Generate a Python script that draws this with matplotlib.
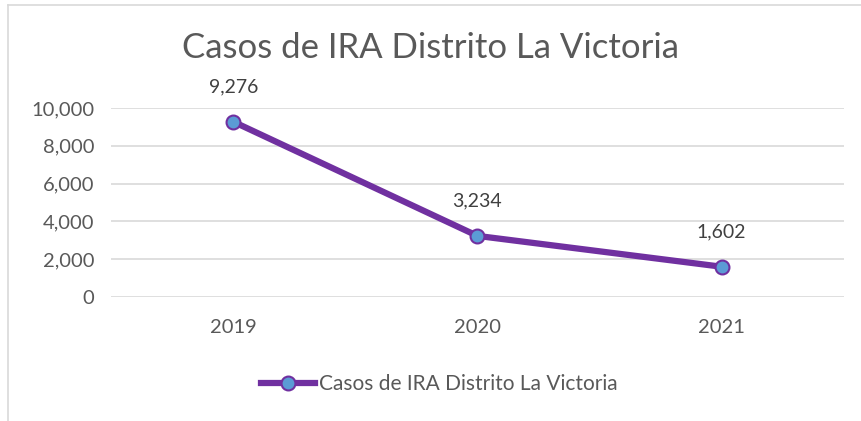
import matplotlib.pyplot as plt
from matplotlib.ticker import FuncFormatter
from matplotlib.lines import Line2D

years = ['2019', '2020', '2021']
casos = [9276, 3234, 1602]
serie = 'Casos de IRA Distrito La Victoria'

plt.rcParams['font.family'] = ['Lato', 'DejaVu Sans']
gris = '#595959'
morado = '#7030A0'
azul = '#5B9BD5'

fig = plt.figure(figsize=(8.61, 4.21), dpi=100)
ax = fig.add_axes([0.129, 0.2945, 0.851, 0.449])

x = range(len(years))
ax.plot(x, casos, color=morado, lw=4.5, marker='o', ms=10,
        mfc=azul, mec=morado, mew=1.5, solid_capstyle='round', zorder=3)
for xi, v in zip(x, casos):
    ax.annotate(f'{v:,}', (xi, v), xytext=(0, 19), textcoords='offset points',
                ha='center', va='bottom', fontsize=14, color='#404040')

ax.set_xlim(-0.5, 2.5)
ax.set_ylim(0, 10000)
ax.set_yticks(range(0, 10001, 2000))
ax.yaxis.set_major_formatter(FuncFormatter(lambda v, p: f'{int(v):,}'))
ax.set_xticks(list(x))
ax.set_xticklabels(years)
ax.grid(axis='y', color='#D9D9D9', lw=1.2)
ax.set_axisbelow(True)
for s in ax.spines.values():
    s.set_visible(False)
ax.tick_params(length=0, labelsize=14.5, colors=gris)
ax.tick_params(axis='y', pad=12)
ax.tick_params(axis='x', pad=16)

fig.text(0.5, 0.885, serie, ha='center', va='center', fontsize=25, color=gris)

h = Line2D([], [], color=morado, lw=4.5, marker='o', ms=10, mfc=azul, mec=morado, mew=1.5)
fig.legend([h], [serie], loc='center', bbox_to_anchor=(0.51, 0.088), frameon=False,
           fontsize=15, labelcolor=gris, handlelength=2.6, handletextpad=0.2)

# borde del grafico
fig.add_artist(Line2D([0.009, 0.009], [0, 0.988], color='#D9D9D9', lw=1.2))
fig.add_artist(Line2D([0.009, 1.0], [0.988, 0.988], color='#D9D9D9', lw=1.2))

fig.savefig('out.png', dpi=100)
